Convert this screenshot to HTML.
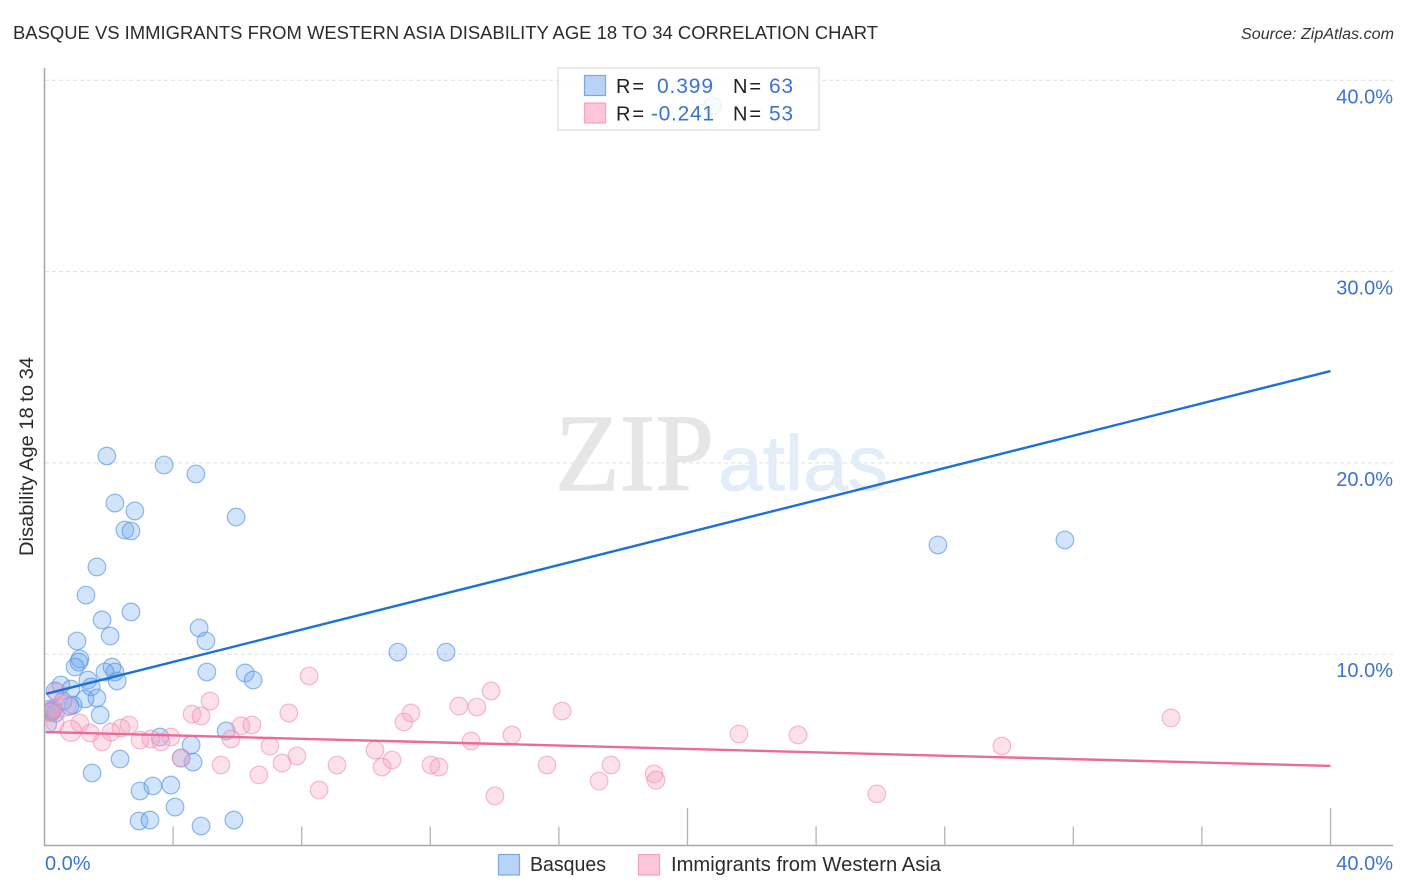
<!DOCTYPE html>
<html lang="en">
<head>
<meta charset="utf-8">
<title>Basque vs Immigrants from Western Asia Disability Age 18 to 34 Correlation Chart</title>
<style>
html,body{margin:0;padding:0;background:#fff;width:1406px;height:892px;overflow:hidden}
svg{display:block;font-family:"Liberation Sans",sans-serif}
</style>
</head>
<body>
<svg id="chart" width="1406" height="892" viewBox="0 0 1406 892" xmlns="http://www.w3.org/2000/svg">
  <defs>
    <clipPath id="plot-clip"><rect x="45" y="60" width="1350" height="785"/></clipPath>
  </defs>
  <rect width="1406" height="892" fill="#fff"/>
  <text x="13" y="39" font-size="18.5" fill="#2b2b2b" textLength="865" lengthAdjust="spacingAndGlyphs">BASQUE VS IMMIGRANTS FROM WESTERN ASIA DISABILITY AGE 18 TO 34 CORRELATION CHART</text>
  <text x="1394" y="39" font-size="15.5" font-style="italic" fill="#333" text-anchor="end" textLength="153" lengthAdjust="spacingAndGlyphs">Source: ZipAtlas.com</text>
  <g id="grid"></g>
  <text x="555" y="490" font-family="'Liberation Serif',serif" font-size="110" fill="#e6e6e6" stroke="#e6e6e6" stroke-width="1.2" textLength="159" lengthAdjust="spacingAndGlyphs">ZIP</text>
  <text x="718" y="490" font-size="78" fill="#e3ecf9" stroke="#e3ecf9" stroke-width="0.8" textLength="170" lengthAdjust="spacingAndGlyphs">atlas</text>
  <g id="axes"></g>
  <g id="marks" clip-path="url(#plot-clip)"></g>
  <g id="tick-labels"></g>
  <text transform="translate(33,556) rotate(-90)" font-size="19" fill="#2b2b2b" textLength="199" lengthAdjust="spacingAndGlyphs">Disability Age 18 to 34</text>

  <g>
    <rect x="558" y="68" width="261" height="62" fill="#fff" fill-opacity="0.82" stroke="#ddd" stroke-width="1.3"/>
    <rect x="584.5" y="75.5" width="21" height="20" fill="#b9d3f6" stroke="#78a9e6" stroke-width="1.2"/>
    <rect x="584.5" y="103" width="21" height="20" fill="#fcc5d8" stroke="#f4a3bf" stroke-width="1.2"/>
    <text x="616" y="93" font-size="20" fill="#222" textLength="28">R =</text>
    <text x="657" y="93" font-size="21" fill="#3b73d4" textLength="56">0.399</text>
    <text x="733" y="93" font-size="20" fill="#222" textLength="28">N =</text>
    <text x="769" y="93" font-size="21" fill="#3b73d4" textLength="24">63</text>
    <text x="616" y="120.5" font-size="20" fill="#222" textLength="28">R =</text>
    <text x="651" y="120.5" font-size="21" fill="#3b73d4" textLength="63">-0.241</text>
    <text x="733" y="120.5" font-size="20" fill="#222" textLength="28">N =</text>
    <text x="769" y="120.5" font-size="21" fill="#3b73d4" textLength="24">53</text>
  </g>

  <g>
    <rect x="498.5" y="854.5" width="21" height="20.5" fill="#b9d3f6" stroke="#78a9e6" stroke-width="1.2"/>
    <text x="530" y="871" font-size="20" fill="#2b2b2b" textLength="76" lengthAdjust="spacingAndGlyphs">Basques</text>
    <rect x="638.5" y="854.5" width="21" height="20.5" fill="#fcc5d8" stroke="#f4a3bf" stroke-width="1.2"/>
    <text x="671" y="871" font-size="20" fill="#2b2b2b" textLength="270" lengthAdjust="spacingAndGlyphs">Immigrants from Western Asia</text>
  </g>
</svg>
<script>
const yTickValues = [10, 20, 30, 40];
const yTickLabels = ["10.0%", "20.0%", "30.0%", "40.0%"];
const xTickValues = [4, 8, 12, 16, 20, 24, 28, 32, 36, 40];
const xMajorTicks = [20, 40];
const xEdgeValues = [0, 40];
const xEdgeLabels = ["0.0%", "40.0%"];

const basqueX = [20.78,1.94,3.72,4.71,2.19,2.81,2.50,2.69,5.96,1.63,1.29,2.69,1.79,4.81,5.02,1.01,2.04,1.10,1.07,0.95,2.10,2.19,1.88,2.26,5.05,6.24,6.49,10.99,12.49,27.79,31.74,1.35,1.45,0.51,0.82,0.33,1.63,1.26,0.89,0.79,1.73,0.23,0.17,5.65,3.59,4.56,4.62,4.25,2.35,1.48,2.97,3.37,3.93,4.06,2.94,3.28,4.87,5.89,0.10,0.20,0.28,0.58,0.34];
const basqueY = [38.66,20.36,19.89,19.42,17.90,17.49,16.49,16.44,17.17,14.56,13.09,12.21,11.79,11.37,10.69,10.69,10.95,9.75,9.59,9.33,9.33,9.07,9.07,8.60,9.07,9.02,8.65,10.11,10.11,15.71,15.97,8.65,8.29,8.39,8.18,8.08,7.71,7.66,7.34,7.29,6.82,6.98,7.14,5.99,5.67,5.25,4.36,4.57,4.52,3.79,2.85,3.11,3.16,2.01,1.28,1.33,1.02,1.33,6.35,7.02,7.10,7.55,6.92];

const immigrantX = [8.23,5.15,4.59,4.87,7.60,6.11,6.45,5.80,7.01,7.85,7.39,9.10,5.49,6.67,8.54,4.25,3.93,3.31,3.62,2.97,2.63,2.38,2.07,1.79,1.42,1.10,0.82,0.33,0.39,0.65,0.18,0.27,10.28,11.18,11.40,10.81,10.50,12.02,12.27,12.89,13.45,13.89,13.27,14.54,16.10,15.63,14.01,17.62,17.25,18.96,19.02,21.60,23.44,25.89,29.78,35.04];
const immigrantY = [8.86,7.55,6.87,6.77,6.93,6.25,6.30,5.57,5.20,4.68,4.31,4.21,4.21,3.69,2.90,4.57,5.67,5.57,5.41,5.51,6.30,6.14,5.93,5.41,5.88,6.40,5.99,6.40,8.02,7.30,6.95,7.15,4.99,6.46,6.93,4.47,4.10,4.21,4.10,7.29,7.24,8.08,5.46,5.78,7.03,4.21,2.59,4.21,3.37,3.74,3.42,5.83,5.78,2.70,5.20,6.67];
const immigrantLargeValues = [0.82, 0.65];

const basqueTrendX = [0.05, 40];
const basqueTrendY = [7.93, 24.8];
const immigrantTrendX = [0.05, 40];
const immigrantTrendY = [5.93, 4.16];

const NS = "http://www.w3.org/2000/svg";
function xScale(v) { return 44.5 + v * 32.15; }
function yScale(v) { return 845.5 - v * 19.13; }
function make(tag, attrs) {
  const el = document.createElementNS(NS, tag);
  for (const k in attrs) el.setAttribute(k, attrs[k]);
  return el;
}
const grid = document.getElementById("grid");
const axes = document.getElementById("axes");
const marks = document.getElementById("marks");
const labels = document.getElementById("tick-labels");

yTickValues.forEach(function (v, i) {
  const line = make("line", {x1: 45, x2: 1393, y1: yScale(v), y2: yScale(v), stroke: "#e0e0e0", "stroke-width": 1, "stroke-dasharray": "4 3"});
  
  
  grid.appendChild(line);
  const t = make("text", {x: 1393, y: yScale(v) + 23, "font-size": 20, fill: "#3b73d4", "text-anchor": "end"});
  t.textContent = yTickLabels[i];
  
  
  labels.appendChild(t);
});

const yAxis = make("line", {x1: 44.5, x2: 44.5, y1: 68, y2: 846, stroke: "#a8a8a8", "stroke-width": 1.5});


axes.appendChild(yAxis);
const xAxis = make("line", {x1: 44, x2: 1393, y1: 845.5, y2: 845.5, stroke: "#a8a8a8", "stroke-width": 1.5});


axes.appendChild(xAxis);

xTickValues.forEach(function (v) {
  const major = xMajorTicks.indexOf(v) >= 0;
  const tick = make("line", {x1: xScale(v), x2: xScale(v), y1: major ? 808 : 826.5, y2: 845.5, stroke: "#b4b4b4", "stroke-width": 1.3});
  
  
  axes.appendChild(tick);
});

xEdgeValues.forEach(function (v, i) {
  const t = make("text", {x: i === 0 ? xScale(v) + 0.5 : 1393, y: 870, "font-size": 20, fill: "#3b73d4", "text-anchor": i === 0 ? "start" : "end"});
  t.textContent = xEdgeLabels[i];
  
  
  labels.appendChild(t);
});

basqueX.forEach(function (v, i) {
  const c = make("circle", {cx: xScale(v), cy: yScale(basqueY[i]), r: 8.8, fill: "#6aa5ee", "fill-opacity": 0.3, stroke: "#4f90e4", "stroke-opacity": 0.62, "stroke-width": 1.2});
  
  
  marks.appendChild(c);
});

immigrantX.forEach(function (v, i) {
  const large = immigrantLargeValues.indexOf(v) >= 0;
  const c = make("circle", {cx: xScale(v), cy: yScale(immigrantY[i]), r: large ? 10.5 : 8.8, fill: "#f6a3c0", "fill-opacity": 0.34, stroke: "#ee8fb0", "stroke-opacity": 0.6, "stroke-width": 1.2});
  
  
  marks.appendChild(c);
});

const blueTrend = make("line", {x1: xScale(basqueTrendX[0]), y1: yScale(basqueTrendY[0]), x2: xScale(basqueTrendX[1]), y2: yScale(basqueTrendY[1]), stroke: "#1f6fd8", "stroke-width": 2.4});


marks.appendChild(blueTrend);
const pinkTrend = make("line", {x1: xScale(immigrantTrendX[0]), y1: yScale(immigrantTrendY[0]), x2: xScale(immigrantTrendX[1]), y2: yScale(immigrantTrendY[1]), stroke: "#ea6a9a", "stroke-width": 2.4});


marks.appendChild(pinkTrend);
</script>
</body>
</html>
